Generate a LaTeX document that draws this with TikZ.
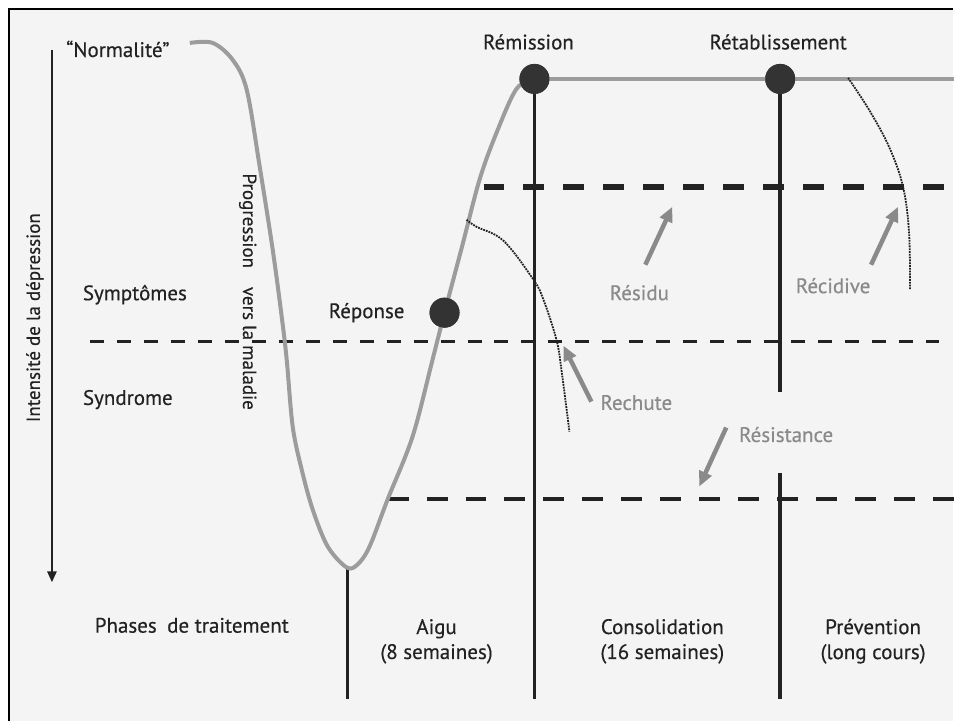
\documentclass[tikz,border=0pt]{standalone}
\usepackage{fontspec}
\setmainfont{PT Sans}[FakeBold=0.4]
\usetikzlibrary{arrows.meta}
\definecolor{fond}{HTML}{F4F4F4}
\definecolor{courbegris}{HTML}{9C9C9C}
\definecolor{flechegris}{HTML}{8A8A8A}
\definecolor{noir}{HTML}{222222}
\definecolor{pointnoir}{HTML}{333333}
\tikzset{
  courbe/.style    = {line width=4pt, courbegris, line join=round},
  phase/.style     = {line width=3.5pt, noir},
  seuilhaut/.style = {line width=6pt, noir, dash pattern=on 21pt off 19pt},
  seuil/.style     = {line width=3.5pt, noir, dash pattern=on 14pt off 13pt},
  seuilbas/.style  = {line width=4pt, noir, dash pattern=on 21pt off 18pt},
  pointille/.style = {line width=1.8pt, noir, densely dotted},
  fleche/.style    = {-{Triangle[length=15pt, width=13pt]}, line width=4.5pt, flechegris},
  point/.style     = {circle, fill=pointnoir, inner sep=0pt, minimum size=30pt},
  etiq/.style      = {text=noir, inner sep=1pt},
  etiqgris/.style  = {text=flechegris, inner sep=1pt}
}

\begin{document}
\begin{tikzpicture}[x=1pt, y=-1pt, font=\fontsize{21}{25}\selectfont]
  \fill[white] (0,0) rectangle (954,722);
  \fill[fond] (9,9) rectangle (954,722);
  \draw[line width=2pt, black] (9,722) -- (9,9) -- (954,9);
  \useasboundingbox (0,0) rectangle (954,722);
  % axe vertical
  \coordinate (axe-haut) at (52,50);
  \coordinate (axe-bas) at (52,583);
  \draw[line width=2.5pt, noir, -{Triangle[length=11pt, width=9pt]}] (axe-haut) -- (axe-bas);
  \node[etiq, rotate=90, font=\fontsize{19}{22}\selectfont] (intensite) at (35,318) {Intensité de la dépression};
  % seuils
  \coordinate (sh-g) at (484,187);
  \coordinate (sh-d) at (945,187);
  \coordinate (sm-g) at (90,342);
  \coordinate (sm-d) at (940,342);
  \coordinate (sb-g) at (388,500);
  \coordinate (sb-d) at (958,500);
  \draw[seuilhaut] (sh-g) -- (sh-d);
  \draw[seuil] (sm-g) -- (sm-d);
  \draw[seuilbas] (sb-g) -- (sb-d);
  % points cles
  \node[point] (rem) at (535,79) {};
  \node[point] (ret) at (781,79) {};
  \node[point] (rep) at (445,313) {};
  \coordinate (creux) at (348,569);
  \coordinate (creux-bas) at (348,700);
  \coordinate (rem-bas) at (535,700);
  \coordinate (ret-coupe) at (781,392);
  \coordinate (ret-reprise) at (781,473);
  \coordinate (ret-bas) at (781,700);
  \coordinate (plateau-fin) at (958,79);
  % phases
  \draw[phase] (creux) -- (creux-bas);
  \draw[phase] (rem.center) -- (rem-bas);
  \draw[phase] (ret.center) -- (ret-coupe);
  \draw[phase] (ret-reprise) -- (ret-bas);
  % evolution
  \draw[courbe] plot[smooth, tension=0.55] coordinates {(190,43) (213,43) (233,60) (247,90)
    (260,167) (273,250) (282,317) (287,360) (293,427) (302,470) (313,510) (328,547)
    (347,568) (358,565) (370,547) (388,500) (413,437) (433,360) (445,313) (463,245)
    (480,180) (497,133) (517,89) (535,79)};
  \draw[courbe] (rem.center) -- (plateau-fin);
  \draw[pointille] plot[smooth, tension=0.6] coordinates {(467,220) (477,227) (504,241)
    (534,280) (544,300) (557,340) (562,370) (570,432)};
  \draw[pointille] plot[smooth, tension=0.6] coordinates {(849,78) (870,110) (890,147)
    (904,187) (910,233) (911,290)};
  \node[point] at (rem) {};
  \node[point] at (ret) {};
  \node[point] at (rep) {};
  % fleches grises
  \coordinate (residu-q) at (646,265);
  \coordinate (residu-p) at (673,207);
  \coordinate (recidive-q) at (872,265);
  \coordinate (recidive-p) at (899,207);
  \coordinate (rechute-q) at (592,402);
  \coordinate (rechute-p) at (564,346);
  \coordinate (resist-q) at (727,428);
  \coordinate (resist-p) at (700,487);
  \draw[fleche] (residu-q) -- (residu-p);
  \draw[fleche] (recidive-q) -- (recidive-p);
  \draw[fleche] (rechute-q) -- (rechute-p);
  \draw[fleche] (resist-q) -- (resist-p);
  % textes
  \node[etiq] (normalite) at (118,49) {“Normalité”};
  \node[etiq] (remission) at (529,42) {Rémission};
  \node[etiq] (retablis) at (779,42) {Rétablissement};
  \node[etiq] (reponse) at (367,313) {Réponse};
  \node[etiq] (symptomes) at (135,295) {Symptômes};
  \node[etiq] (syndrome) at (128,400) {Syndrome};
  \node[etiq, rotate=-90, font=\fontsize{19}{22}\selectfont] (progression) at (248,292) {Progression\quad vers la maladie};
  \node[etiqgris] (residu) at (640,293) {Résidu};
  \node[etiqgris] (recidive) at (834,286) {Récidive};
  \node[etiqgris] (rechute) at (637,403) {Rechute};
  \node[etiqgris] (resistance) at (787,435) {Résistance};
  \node[etiq] (phases) at (192,626) {Phases\enspace de traitement};
  \node[etiq, align=center] (aigu) at (437,642) {Aigu\\(8 semaines)};
  \node[etiq, align=center] (consol) at (663,642) {Consolidation\\(16 semaines)};
  \node[etiq, align=center] (prevent) at (874,642) {Prévention\\(long cours)};
\end{tikzpicture}
\end{document}
